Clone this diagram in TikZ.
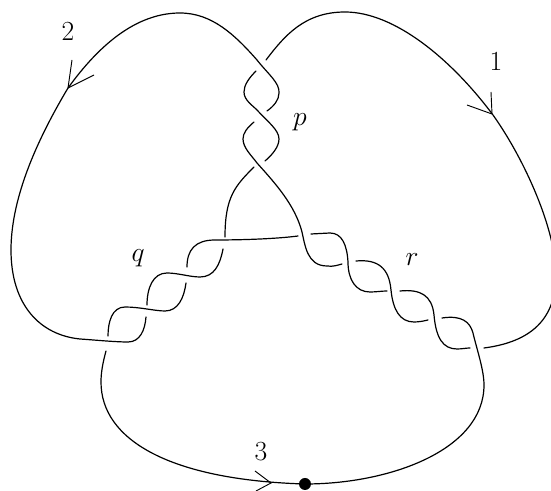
\documentclass[tikz,border=0pt]{standalone}
\usepackage{amsmath}
\usetikzlibrary{
	positioning,
	calc
}

\begin{document}
\begin{tikzpicture}[
	x=0.75pt,y=-0.75pt,
	c_strand/.style={
		black,
		line width=0.9pt,
		line cap=round,
		line join=round
	},
	c_barb/.style={
		black,
		line width=0.7pt
	},
	c_label/.style={
		black,
		font=\huge
	}
	]

	\clip (0,0) rectangle (551,491);
	\useasboundingbox (0,0) rectangle (551,491);

	% =========================================================================
	% BIG ARCS
	% =========================================================================

	% Arc 2, from twist p round to twist q
	\draw[c_strand]
	(267,111) .. controls (274,106) and (279,100) .. (279,93)
	.. controls (280,83) and (268,74) .. (257,60)
	.. controls (235,35) and (212,13) .. (180,13)
	.. controls (130,13) and (92,55) .. (68,88)
	.. controls (40,135) and (11,195) .. (11,250)
	.. controls (11,305) and (40,335) .. (80,339)
	.. controls (95,340) and (115,342) .. (128,342)
	.. controls (140,342) and (145,330) .. (146,317);

	% Arc 1, from twist p round to twist r
	\draw[c_strand]
	(266,60) .. controls (285,35) and (305,12) .. (345,12)
	.. controls (395,12) and (452,60) .. (493,115)
	.. controls (525,160) and (556,230) .. (556,275)
	.. controls (556,320) and (530,342) .. (484,348);

	% Arc 3, from twist q round to twist r
	\draw[c_strand]
	(106,351) .. controls (103,362) and (101,372) .. (101,382)
	.. controls (101,440) and (170,480) .. (305,484)
	.. controls (390,484) and (484,450) .. (484,385)
	.. controls (484,370) and (477,350) .. (473,333)
	.. controls (470,322) and (462,315) .. (442,318);

	% =========================================================================
	% TWIST P
	% =========================================================================

	\draw[c_strand]
	(254,122) .. controls (247,128) and (243,133) .. (243,139)
	.. controls (243,148) and (252,156) .. (257,163)
	.. controls (275,183) and (295,205) .. (302,232)
	.. controls (305,245) and (307,266) .. (327,266)
	.. controls (333,267) and (338,265) .. (342,264);

	\draw[c_strand]
	(256,71) .. controls (249,78) and (244,85) .. (244,92)
	.. controls (244,100) and (252,105) .. (257,110)
	.. controls (268,122) and (279,130) .. (279,139)
	.. controls (279,147) and (272,155) .. (265,161);

	\draw[c_strand]
	(254,167) .. controls (235,186) and (225,197) .. (225,237);

	% =========================================================================
	% TWIST Q
	% =========================================================================

	\draw[c_strand]
	(298,236) .. controls (275,239) and (240,240) .. (215,240)
	.. controls (195,240) and (187,250) .. (187,267);

	\draw[c_strand]
	(223,249) .. controls (220,265) and (214,277) .. (200,277)
	.. controls (190,277) and (178,273) .. (167,273)
	.. controls (153,273) and (147,288) .. (147,305);

	\draw[c_strand]
	(186,283) .. controls (184,298) and (178,311) .. (165,311)
	.. controls (155,311) and (140,307) .. (125,307)
	.. controls (112,307) and (108,322) .. (108,336);

	% =========================================================================
	% TWIST R
	% =========================================================================

	\draw[c_strand]
	(311,234) .. controls (320,233) .. (330,233)
	.. controls (342,233) and (347,245) .. (348,262)
	.. controls (348,280) and (356,292) .. (370,292)
	.. controls (376,292) and (382,291) .. (387,291);

	\draw[c_strand]
	(400,291) .. controls (420,289) and (432,295) .. (434,315)
	.. controls (436,338) and (443,349) .. (457,349)
	.. controls (462,349) and (466,348) .. (470,348);

	\draw[c_strand]
	(356,261) .. controls (378,259) and (389,268) .. (391,290)
	.. controls (393,310) and (400,322) .. (414,322)
	.. controls (419,322) and (424,321) .. (428,320);

	% =========================================================================
	% ARROWS AND POINT
	% =========================================================================

	\draw[c_barb] (72,60)--(68,88)--(94,75);
	\draw[c_barb] (467,105)--(492,114)--(491,92);
	\draw[c_barb] (255,471)--(271,483)--(256,491);

	\fill[black] (305,484) circle (6);

	% =========================================================================
	% LABELS
	% =========================================================================

	\node[c_label] (lbl_two) at (68,31) {2};
	\node[c_label] (lbl_one) at (496,61) {1};
	\node[c_label] (lbl_three) at (261,452) {3};
	\node[c_label] (lbl_p) at (300,122) {$p$};
	\node[c_label] (lbl_q) at (138,258) {$q$};
	\node[c_label] (lbl_r) at (412,260) {$r$};

\end{tikzpicture}
\end{document}
